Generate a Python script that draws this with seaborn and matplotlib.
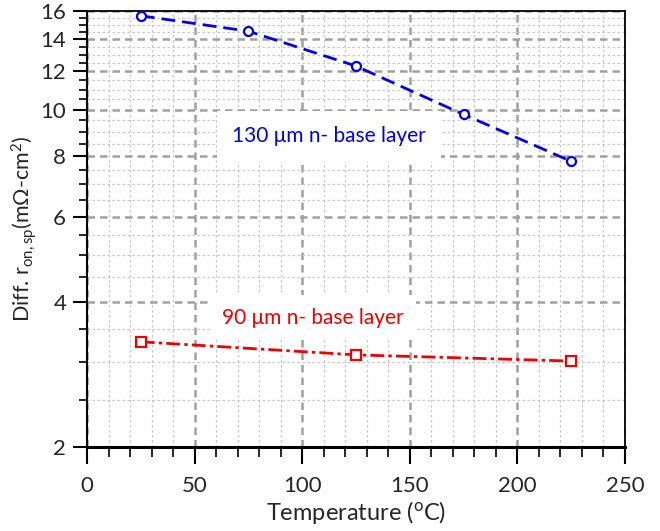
import matplotlib
matplotlib.use("Agg")
import matplotlib.pyplot as plt
import seaborn as sns
import numpy as np
import pandas as pd
from matplotlib.ticker import FixedLocator, NullFormatter, MultipleLocator

temps_130 = [25, 75, 125, 175, 225]
r_130 = [15.65, 14.54, 12.31, 9.77, 7.81]
temps_90 = [25, 125, 225]
r_90 = [3.30, 3.10, 3.01]
y_major = [2, 4, 6, 8, 10, 12, 14, 16]
x_major = [0, 50, 100, 150, 200, 250]

sns.set_style("white")
plt.rcParams['font.family'] = ['Lato', 'DejaVu Sans']
plt.rcParams['mathtext.fontset'] = 'custom'
plt.rcParams['mathtext.rm'] = 'Lato'
plt.rcParams['mathtext.it'] = 'Lato'

fig = plt.figure(figsize=(6.6, 5.31), dpi=100)
ax = fig.add_axes([0.1318, 0.1588, 0.947 - 0.1318, 0.979 - 0.1588])

df130 = pd.DataFrame({"T": temps_130, "r": r_130})
df90 = pd.DataFrame({"T": temps_90, "r": r_90})

sns.lineplot(data=df130, x="T", y="r", ax=ax, color="#0000ee", lw=2.0,
             marker="o", markersize=6.5, markerfacecolor="white",
             markeredgecolor="#0000ee", markeredgewidth=1.6, zorder=5)
ax.lines[-1].set_dashes([5, 2.5])
sns.lineplot(data=df90, x="T", y="r", ax=ax, color="#ee0000", lw=2.0,
             marker="s", markersize=6.5, markerfacecolor="white",
             markeredgecolor="#ee0000", markeredgewidth=1.6, zorder=5)
ax.lines[-1].set_dashes([5, 1.5, 1.2, 1.5])

ax.set_yscale("log")
ax.set_ylim(2, 16)
ax.set_xlim(0, 250)
ax.yaxis.set_major_locator(FixedLocator(y_major))
ax.set_yticklabels([str(v) for v in y_major])
ax.yaxis.set_minor_locator(FixedLocator(np.arange(2.5, 16, 0.5).tolist()))
ax.yaxis.set_minor_formatter(NullFormatter())
ax.xaxis.set_major_locator(FixedLocator(x_major))
ax.xaxis.set_minor_locator(MultipleLocator(10))

ax.grid(which="major", color="#a0a0a0", ls=(0, (3, 2)), lw=1.8)
ax.grid(which="minor", color="#c8c8c8", ls=(0, (2, 2)), lw=0.9)
ax.set_axisbelow(True)

ax.tick_params(which="major", direction="out", length=10, width=1.5, labelsize=16, color="black")
ax.tick_params(which="minor", direction="out", length=6, width=1.2, color="black")
ax.tick_params(axis="x", which="major", pad=9)
ax.tick_params(axis="x", which="major", length=12)
ax.tick_params(axis="x", which="minor", length=7)
ax.tick_params(axis="y", which="major", pad=5)
ax.tick_params(left=True, bottom=True, which="both")

for s in ["top", "right"]:
    ax.spines[s].set_linewidth(1.3)
    ax.spines[s].set_color("black")
ax.spines["left"].set_linewidth(1.5)
ax.spines["left"].set_color("black")
ax.spines["bottom"].set_linewidth(2.2)
ax.spines["bottom"].set_color("black")

ax.set_xlabel("Temperature ($^{\\rm o}$C)", fontsize=17, labelpad=2)
ax.set_ylabel("Diff. r$_{\\rm on,sp}$(m\u03a9-cm$^{2}$)", fontsize=15.5, labelpad=1)

ax.text(112.5, 8.8, "130 \u03bcm n- base layer", color="#0000ee", fontsize=15,
        ha="center", va="center",
        bbox=dict(facecolor="white", edgecolor="none", pad=11), zorder=4)
ax.text(105, 3.70, "90 \u03bcm n- base layer", color="#ee0000", fontsize=15,
        ha="center", va="center",
        bbox=dict(facecolor="white", edgecolor="none", pad=9), zorder=4)

fig.savefig("out.png", dpi=100)
